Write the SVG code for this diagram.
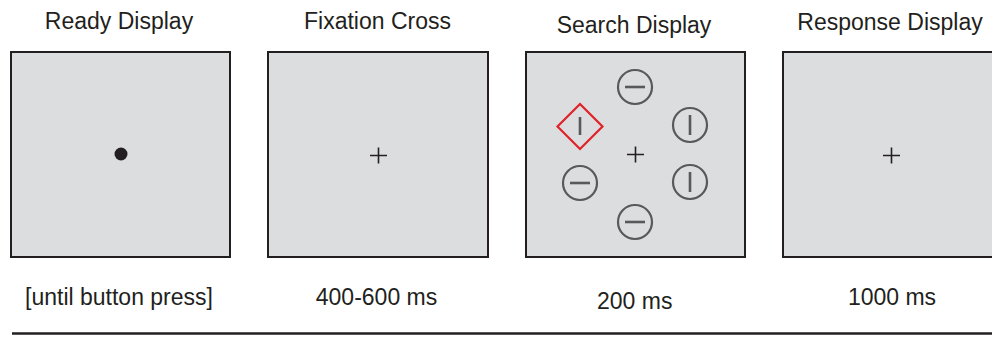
<svg xmlns="http://www.w3.org/2000/svg" width="992" height="339" viewBox="0 0 992 339">
<style>
text{font-family:"Liberation Sans",Arial,sans-serif;font-size:23px;fill:#231f20;text-anchor:middle}
.scr{fill:#dcdddf;stroke:#231f20;stroke-width:2}
.fix{stroke:#231f20;stroke-width:1.6;fill:none}
.stim{fill:none;stroke:#58595b;stroke-width:2.2}
.bar{stroke:#58595b;stroke-width:2.6;fill:none}
.tgt{fill:none;stroke:#e02128;stroke-width:2.2}
</style>
<rect width="992" height="339" fill="#ffffff"/>
<g id="ready">
<text x="119" y="29">Ready Display</text>
<rect class="scr" x="11" y="52" width="219" height="205"/>
<circle cx="121" cy="154" r="6.5" fill="#231f20"/>
<text x="119" y="305">[until button press]</text>
</g>
<g id="fixation">
<text x="377.5" y="29">Fixation Cross</text>
<rect class="scr" x="268" y="52" width="220" height="205"/>
<path class="fix" d="M370 155.5h17M378.5 147.5v16"/>
<text x="376.5" y="305">400-600 ms</text>
</g>
<g id="search">
<text x="634" y="32.5">Search Display</text>
<rect class="scr" x="526" y="52" width="219" height="205"/>
<path class="fix" d="M627 154.5h17M635.5 146.5v16"/>
<circle class="stim" cx="635" cy="87" r="17"/>
<path class="bar" d="M625 87h20"/>
<circle class="stim" cx="690" cy="125" r="17"/>
<path class="bar" d="M690 115v20"/>
<circle class="stim" cx="690" cy="182" r="17"/>
<path class="bar" d="M690 172v20"/>
<circle class="stim" cx="635" cy="222" r="17"/>
<path class="bar" d="M625 222h20"/>
<circle class="stim" cx="580" cy="183" r="17"/>
<path class="bar" d="M570 183h20"/>
<path class="tgt" d="M580 104l22.5 22.5l-22.5 22.5l-22.5-22.5z"/>
<path class="bar" d="M580 117v18"/>
<text x="634.7" y="308.5">200 ms</text>
</g>
<g id="response">
<text x="890" y="30">Response Display</text>
<rect class="scr" x="783" y="52" width="220" height="205"/>
<path class="fix" d="M883 155.5h17M891.5 147.5v16"/>
<text x="892" y="305">1000 ms</text>
</g>
<g id="connectors">
<line x1="12" y1="333.5" x2="992" y2="333.5" stroke="#231f20" stroke-width="2.6"/>
</g>
</svg>
